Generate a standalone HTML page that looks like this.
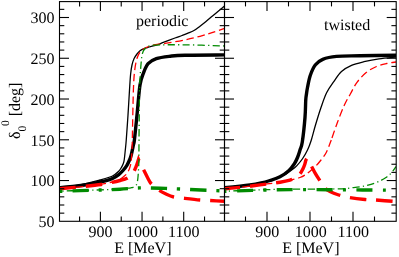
<!DOCTYPE html>
<html><head><meta charset="utf-8"><style>
html,body{margin:0;padding:0;background:#fff;}
svg{display:block;font-family:"Liberation Serif",serif;font-size:16px;fill:#000;text-rendering:geometricPrecision;}
</style></head><body>
<svg width="399" height="257" viewBox="0 0 399 257">
<rect width="399" height="257" fill="#fff"/>
<defs>
<clipPath id="cl"><rect x="59.5" y="1.6" width="165.00" height="219.70"/></clipPath>
<clipPath id="cr"><rect x="224.5" y="1.6" width="171.70" height="219.70"/></clipPath>
</defs>
<g fill="none" stroke-linecap="butt" stroke-linejoin="round" clip-path="url(#cl)">
<path d="M59.50,187.60 C62.08,187.37 70.58,186.67 75.00,186.20 C79.42,185.73 82.67,185.32 86.00,184.80 C89.33,184.28 91.83,183.75 95.00,183.10 C98.17,182.45 102.08,181.67 105.00,180.90 C107.92,180.13 110.21,179.55 112.50,178.50 C114.79,177.45 117.00,175.93 118.75,174.60 C120.50,173.27 121.64,172.05 123.00,170.50 C124.36,168.95 125.82,167.05 126.90,165.30 C127.98,163.55 128.78,161.72 129.50,160.00 C130.22,158.28 130.60,157.50 131.25,155.00 C131.90,152.50 132.88,147.50 133.40,145.00 C133.93,142.50 133.80,145.00 134.40,140.00 C135.00,135.00 136.07,124.17 137.00,115.00 C137.93,105.83 138.92,92.00 140.00,85.00 C141.08,78.00 142.15,76.55 143.50,73.00 C144.85,69.45 145.97,66.10 148.10,63.70 C150.23,61.30 152.60,59.85 156.30,58.60 C160.00,57.35 165.52,56.77 170.30,56.20 C175.08,55.63 175.97,55.42 185.00,55.20 C194.03,54.98 217.92,54.95 224.50,54.90" stroke="#000" stroke-width="3.4"/>
<path d="M59.50,187.60 C62.92,187.17 73.25,186.27 80.00,185.00 C86.75,183.73 94.58,181.50 100.00,180.00 C105.42,178.50 109.38,177.47 112.50,176.00 C115.62,174.53 117.25,172.65 118.75,171.20 C120.25,169.75 120.78,168.50 121.50,167.30 C122.22,166.10 122.65,165.22 123.10,164.00 C123.55,162.78 123.83,162.33 124.20,160.00 C124.57,157.67 124.96,153.33 125.30,150.00 C125.64,146.67 125.80,145.83 126.25,140.00 C126.70,134.17 127.46,123.33 128.00,115.00 C128.54,106.67 129.07,96.78 129.50,90.00 C129.93,83.22 130.18,78.47 130.60,74.30 C131.02,70.13 131.42,67.62 132.00,65.00 C132.58,62.38 133.27,60.43 134.10,58.60 C134.93,56.77 136.02,55.30 137.00,54.00 C137.98,52.70 138.83,51.70 140.00,50.80 C141.17,49.90 142.45,49.23 144.00,48.60 C145.55,47.97 147.05,47.65 149.30,47.00 C151.55,46.35 155.17,45.47 157.50,44.70 C159.83,43.93 160.38,43.52 163.30,42.40 C166.22,41.28 171.88,39.15 175.00,38.00 C178.12,36.85 179.83,36.30 182.00,35.50 C184.17,34.70 186.00,34.03 188.00,33.20 C190.00,32.37 192.00,31.67 194.00,30.50 C196.00,29.33 198.00,27.70 200.00,26.20 C202.00,24.70 203.92,23.20 206.00,21.50 C208.08,19.80 210.42,17.75 212.50,16.00 C214.58,14.25 216.50,12.67 218.50,11.00 C220.50,9.33 223.50,6.83 224.50,6.00" stroke="#000" stroke-width="1.3"/>
<path d="M59.50,188.70 C62.08,188.48 68.08,188.10 75.00,187.40 C81.92,186.70 94.83,185.33 101.00,184.50 C107.17,183.67 108.83,183.07 112.00,182.40 C115.17,181.73 117.50,181.18 120.00,180.50 C122.50,179.82 125.17,179.22 127.00,178.30 C128.83,177.38 129.92,176.05 131.00,175.00 C132.08,173.95 132.78,173.08 133.50,172.00 C134.22,170.92 134.77,169.67 135.30,168.50 C135.83,167.33 136.28,166.12 136.70,165.00 C137.12,163.88 137.50,162.72 137.80,161.80 C138.10,160.88 138.38,159.88 138.50,159.50 C138.68,159.92 139.10,160.95 139.60,162.00 C140.10,163.05 140.77,164.38 141.50,165.80 C142.23,167.22 143.00,168.55 144.00,170.50 C145.00,172.45 146.29,175.29 147.50,177.50 C148.71,179.71 149.38,181.67 151.25,183.75 C153.12,185.83 156.29,188.29 158.75,190.00 C161.21,191.71 163.50,192.83 166.00,194.00 C168.50,195.17 170.79,196.29 173.75,197.00 C176.71,197.71 179.38,197.75 183.75,198.25 C188.12,198.75 195.62,199.62 200.00,200.00 C204.38,200.38 205.92,200.29 210.00,200.50 C214.08,200.71 222.08,201.12 224.50,201.25" stroke="#ff0000" stroke-width="3.4" stroke-dasharray="0.00,0.16,16.30,10.00,16.30,10.00,16.30,10.00,13.52,10.00,16.30,10.00,16.30,10.00,16.30,10.00,14.45,50.00" stroke-linejoin="miter" stroke-miterlimit="12"/>
<path d="M59.50,188.60 C62.92,188.32 73.25,187.58 80.00,186.90 C86.75,186.22 94.58,185.32 100.00,184.50 C105.42,183.68 109.17,182.87 112.50,182.00 C115.83,181.13 117.92,180.38 120.00,179.30 C122.08,178.22 123.75,176.63 125.00,175.50 C126.25,174.37 126.75,173.67 127.50,172.50 C128.25,171.33 128.95,169.92 129.50,168.50 C130.05,167.08 130.47,165.75 130.80,164.00 C131.13,162.25 131.30,160.33 131.50,158.00 C131.70,155.67 131.87,153.00 132.00,150.00 C132.13,147.00 132.07,150.00 132.30,140.00 C132.53,130.00 132.98,101.73 133.40,90.00 C133.82,78.27 134.10,75.13 134.80,69.60 C135.50,64.07 136.35,60.10 137.60,56.80 C138.85,53.50 139.97,51.68 142.30,49.80 C144.63,47.92 147.82,46.57 151.60,45.50 C155.38,44.43 159.43,44.33 165.00,43.40 C170.57,42.47 179.17,41.08 185.00,39.90 C190.83,38.72 195.50,37.52 200.00,36.30 C204.50,35.08 207.92,33.92 212.00,32.60 C216.08,31.28 222.42,29.10 224.50,28.40" stroke="#ff0000" stroke-width="1.3" stroke-dasharray="7.5,3.8" stroke-dashoffset="6.03"/>
<path d="M59.50,191.20 C62.92,191.08 73.25,190.72 80.00,190.50 C86.75,190.28 93.33,190.17 100.00,189.90 C106.67,189.63 115.33,189.18 120.00,188.90 C124.67,188.62 126.17,188.38 128.00,188.20 C129.83,188.02 130.17,187.95 131.00,187.80 C131.83,187.65 132.33,187.60 133.00,187.30 C133.67,187.00 134.42,186.45 135.00,186.00 C135.58,185.55 136.12,185.27 136.50,184.60 C136.88,183.93 137.07,183.10 137.30,182.00 C137.53,180.90 137.70,180.00 137.90,178.00 C138.10,176.00 138.33,173.00 138.50,170.00 C138.67,167.00 138.82,165.00 138.90,160.00 C138.98,155.00 138.90,151.67 139.00,140.00 C139.10,128.33 139.42,98.33 139.50,90.00" stroke="#008b00" stroke-width="1.3" stroke-dasharray="7.3,3.2,1.2,3.2" stroke-dashoffset="7.54"/>
<path d="M139.50,90.00 C139.65,87.00 139.93,78.03 140.40,72.00 C140.87,65.97 141.40,57.80 142.30,53.80 C143.20,49.80 143.85,49.43 145.80,48.00 C147.75,46.57 147.47,45.73 154.00,45.20 C160.53,44.67 173.25,44.67 185.00,44.80 C196.75,44.93 217.92,45.80 224.50,46.00" stroke="#008b00" stroke-width="1.3" stroke-dasharray="7.3,3.2,1.2,3.2" stroke-dashoffset="8.56"/>
<path d="M59.50,191.30 C62.92,191.18 73.25,190.82 80.00,190.60 C86.75,190.38 93.33,190.23 100.00,190.00 C106.67,189.77 113.33,189.55 120.00,189.20 C126.67,188.85 133.33,188.07 140.00,187.90 C146.67,187.73 153.33,188.02 160.00,188.20 C166.67,188.38 169.25,188.53 180.00,189.00 C190.75,189.47 217.08,190.67 224.50,191.00" stroke="#008b00" stroke-width="3.4" stroke-dasharray="16.25,10,3,10" stroke-dashoffset="26.30"/>
</g>
<g fill="none" stroke-linecap="butt" stroke-linejoin="round" clip-path="url(#cr)">
<path d="M224.50,187.60 C227.08,187.37 235.75,186.63 240.00,186.20 C244.25,185.77 246.67,185.50 250.00,185.00 C253.33,184.50 256.67,183.95 260.00,183.20 C263.33,182.45 266.67,181.57 270.00,180.50 C273.33,179.43 276.88,178.42 280.00,176.80 C283.12,175.18 286.35,172.98 288.75,170.80 C291.15,168.62 292.94,165.97 294.40,163.75 C295.86,161.53 296.57,159.79 297.50,157.50 C298.43,155.21 299.20,152.58 300.00,150.00 C300.80,147.42 301.47,147.42 302.30,142.00 C303.13,136.58 304.43,124.50 305.00,117.50 C305.57,110.50 305.50,103.96 305.75,100.00 C306.00,96.04 306.21,95.83 306.50,93.75 C306.79,91.67 306.88,90.54 307.50,87.50 C308.12,84.46 308.96,79.25 310.25,75.50 C311.54,71.75 313.17,67.70 315.25,65.00 C317.33,62.30 319.21,60.73 322.75,59.30 C326.29,57.87 330.29,56.98 336.50,56.40 C342.71,55.82 350.08,56.00 360.00,55.80 C369.92,55.60 390.00,55.30 396.00,55.20" stroke="#000" stroke-width="3.4"/>
<path d="M224.50,187.60 C227.08,187.33 234.08,186.80 240.00,186.00 C245.92,185.20 254.17,183.97 260.00,182.80 C265.83,181.63 271.17,180.22 275.00,179.00 C278.83,177.78 280.71,176.67 283.00,175.50 C285.29,174.33 287.08,173.08 288.75,172.00 C290.42,170.92 291.64,170.07 293.00,169.00 C294.36,167.93 295.32,167.31 296.90,165.60 C298.48,163.89 300.73,161.35 302.50,158.75 C304.27,156.15 306.08,152.96 307.50,150.00 C308.92,147.04 309.67,145.17 311.00,141.00 C312.33,136.83 313.83,130.58 315.50,125.00 C317.17,119.42 319.15,112.88 321.00,107.50 C322.85,102.12 324.43,97.07 326.60,92.70 C328.77,88.33 331.52,84.83 334.00,81.30 C336.48,77.77 338.58,74.17 341.50,71.50 C344.42,68.83 347.75,66.93 351.50,65.30 C355.25,63.67 359.42,62.78 364.00,61.70 C368.58,60.62 373.67,59.58 379.00,58.80 C384.33,58.02 393.17,57.30 396.00,57.00" stroke="#000" stroke-width="1.3"/>
<path d="M224.50,188.70 C227.08,188.48 234.08,188.03 240.00,187.40 C245.92,186.77 253.33,185.77 260.00,184.90 C266.67,184.03 275.00,183.00 280.00,182.20 C285.00,181.40 287.33,180.87 290.00,180.10 C292.67,179.33 294.32,178.65 296.00,177.60 C297.68,176.55 298.93,175.28 300.10,173.80 C301.27,172.32 302.22,170.30 303.00,168.70 C303.78,167.10 304.32,165.62 304.80,164.20 C305.28,162.78 305.53,161.18 305.90,160.20 C306.27,159.22 306.82,158.62 307.00,158.30 C307.27,158.75 307.83,159.65 308.60,161.00 C309.37,162.35 310.53,164.43 311.60,166.40 C312.67,168.37 313.60,170.37 315.00,172.80 C316.40,175.23 318.54,178.63 320.00,181.00 C321.46,183.37 322.08,185.25 323.75,187.00 C325.42,188.75 327.50,190.17 330.00,191.50 C332.50,192.83 335.62,194.00 338.75,195.00 C341.88,196.00 344.38,196.75 348.75,197.50 C353.12,198.25 360.62,199.08 365.00,199.50 C369.38,199.92 369.83,199.67 375.00,200.00 C380.17,200.33 392.50,201.25 396.00,201.50" stroke="#ff0000" stroke-width="3.4" stroke-dasharray="15.66,10.00,16.30,10.00,16.30,10.00,16.30,10.10,16.30,10.00,16.30,10.00,16.30,10.00,16.30,53.68" stroke-linejoin="miter" stroke-miterlimit="12"/>
<path d="M224.50,188.60 C227.08,188.38 234.08,187.93 240.00,187.30 C245.92,186.67 253.33,185.63 260.00,184.80 C266.67,183.97 275.00,183.03 280.00,182.30 C285.00,181.57 286.67,181.20 290.00,180.40 C293.33,179.60 297.50,178.40 300.00,177.50 C302.50,176.60 303.33,176.05 305.00,175.00 C306.67,173.95 308.12,172.77 310.00,171.20 C311.88,169.63 314.42,167.47 316.25,165.60 C318.08,163.73 319.33,162.18 321.00,160.00 C322.67,157.82 324.54,155.83 326.25,152.50 C327.96,149.17 330.42,142.08 331.25,140.00 C332.27,137.08 335.21,128.33 337.40,122.50 C339.59,116.67 342.20,109.83 344.40,105.00 C346.60,100.17 348.50,97.28 350.60,93.50 C352.70,89.72 354.35,85.83 357.00,82.30 C359.65,78.77 363.25,74.93 366.50,72.30 C369.75,69.67 373.17,67.97 376.50,66.50 C379.83,65.03 383.25,64.25 386.50,63.50 C389.75,62.75 394.42,62.25 396.00,62.00" stroke="#ff0000" stroke-width="1.3" stroke-dasharray="2.81,3.80,7.50,3.80,7.50,3.80,7.50,3.80,7.50,3.80,7.50,3.80,7.50,3.80,7.50,3.80,7.50,3.80,7.50,3.80,7.50,3.80,7.13,2.35,7.50,3.80,7.50,3.80,7.50,3.80,7.50,3.80,7.50,3.80,7.50,3.80,7.50,3.80,7.50,3.80,7.50,3.80,4.83,50.00"/>
<path d="M224.50,191.20 C227.92,191.08 238.25,190.75 245.00,190.50 C251.75,190.25 257.50,189.93 265.00,189.70 C272.50,189.47 277.67,189.23 290.00,189.10 C302.33,188.97 328.67,189.13 339.00,188.90 C349.33,188.67 348.50,188.05 352.00,187.70 C355.50,187.35 357.50,187.18 360.00,186.80 C362.50,186.42 364.57,186.00 367.00,185.40 C369.43,184.80 372.18,184.07 374.60,183.20 C377.02,182.33 379.60,181.15 381.50,180.20 C383.40,179.25 384.67,178.40 386.00,177.50 C387.33,176.60 388.33,175.92 389.50,174.80 C390.67,173.68 391.92,172.18 393.00,170.80 C394.08,169.42 395.50,167.22 396.00,166.50" stroke="#008b00" stroke-width="1.3" stroke-dasharray="7.3,3.2,1.2,3.2" stroke-dashoffset="6.07"/>
<path d="M224.50,191.30 C227.92,191.18 238.25,190.82 245.00,190.60 C251.75,190.38 257.50,190.17 265.00,190.00 C272.50,189.83 277.50,189.63 290.00,189.60 C302.50,189.57 322.33,189.70 340.00,189.80 C357.67,189.90 386.67,190.13 396.00,190.20" stroke="#008b00" stroke-width="3.4" stroke-dasharray="16,10.4,3,10.4" stroke-dashoffset="27.25"/>
</g>
<g stroke="#000" stroke-width="1.1" fill="none">
<line x1="59.5" y1="213.15" x2="64.3" y2="213.15"/>
<line x1="219.7" y1="213.15" x2="229.3" y2="213.15"/>
<line x1="391.4" y1="213.15" x2="396.2" y2="213.15"/>
<line x1="59.5" y1="205.00" x2="64.3" y2="205.00"/>
<line x1="219.7" y1="205.00" x2="229.3" y2="205.00"/>
<line x1="391.4" y1="205.00" x2="396.2" y2="205.00"/>
<line x1="59.5" y1="196.84" x2="64.3" y2="196.84"/>
<line x1="219.7" y1="196.84" x2="229.3" y2="196.84"/>
<line x1="391.4" y1="196.84" x2="396.2" y2="196.84"/>
<line x1="59.5" y1="188.69" x2="64.3" y2="188.69"/>
<line x1="219.7" y1="188.69" x2="229.3" y2="188.69"/>
<line x1="391.4" y1="188.69" x2="396.2" y2="188.69"/>
<line x1="59.5" y1="180.54" x2="69.0" y2="180.54"/>
<line x1="215.0" y1="180.54" x2="234.0" y2="180.54"/>
<line x1="386.7" y1="180.54" x2="396.2" y2="180.54"/>
<line x1="59.5" y1="172.39" x2="64.3" y2="172.39"/>
<line x1="219.7" y1="172.39" x2="229.3" y2="172.39"/>
<line x1="391.4" y1="172.39" x2="396.2" y2="172.39"/>
<line x1="59.5" y1="164.24" x2="64.3" y2="164.24"/>
<line x1="219.7" y1="164.24" x2="229.3" y2="164.24"/>
<line x1="391.4" y1="164.24" x2="396.2" y2="164.24"/>
<line x1="59.5" y1="156.08" x2="64.3" y2="156.08"/>
<line x1="219.7" y1="156.08" x2="229.3" y2="156.08"/>
<line x1="391.4" y1="156.08" x2="396.2" y2="156.08"/>
<line x1="59.5" y1="147.93" x2="64.3" y2="147.93"/>
<line x1="219.7" y1="147.93" x2="229.3" y2="147.93"/>
<line x1="391.4" y1="147.93" x2="396.2" y2="147.93"/>
<line x1="59.5" y1="139.78" x2="69.0" y2="139.78"/>
<line x1="215.0" y1="139.78" x2="234.0" y2="139.78"/>
<line x1="386.7" y1="139.78" x2="396.2" y2="139.78"/>
<line x1="59.5" y1="131.63" x2="64.3" y2="131.63"/>
<line x1="219.7" y1="131.63" x2="229.3" y2="131.63"/>
<line x1="391.4" y1="131.63" x2="396.2" y2="131.63"/>
<line x1="59.5" y1="123.48" x2="64.3" y2="123.48"/>
<line x1="219.7" y1="123.48" x2="229.3" y2="123.48"/>
<line x1="391.4" y1="123.48" x2="396.2" y2="123.48"/>
<line x1="59.5" y1="115.32" x2="64.3" y2="115.32"/>
<line x1="219.7" y1="115.32" x2="229.3" y2="115.32"/>
<line x1="391.4" y1="115.32" x2="396.2" y2="115.32"/>
<line x1="59.5" y1="107.17" x2="64.3" y2="107.17"/>
<line x1="219.7" y1="107.17" x2="229.3" y2="107.17"/>
<line x1="391.4" y1="107.17" x2="396.2" y2="107.17"/>
<line x1="59.5" y1="99.02" x2="69.0" y2="99.02"/>
<line x1="215.0" y1="99.02" x2="234.0" y2="99.02"/>
<line x1="386.7" y1="99.02" x2="396.2" y2="99.02"/>
<line x1="59.5" y1="90.87" x2="64.3" y2="90.87"/>
<line x1="219.7" y1="90.87" x2="229.3" y2="90.87"/>
<line x1="391.4" y1="90.87" x2="396.2" y2="90.87"/>
<line x1="59.5" y1="82.72" x2="64.3" y2="82.72"/>
<line x1="219.7" y1="82.72" x2="229.3" y2="82.72"/>
<line x1="391.4" y1="82.72" x2="396.2" y2="82.72"/>
<line x1="59.5" y1="74.56" x2="64.3" y2="74.56"/>
<line x1="219.7" y1="74.56" x2="229.3" y2="74.56"/>
<line x1="391.4" y1="74.56" x2="396.2" y2="74.56"/>
<line x1="59.5" y1="66.41" x2="64.3" y2="66.41"/>
<line x1="219.7" y1="66.41" x2="229.3" y2="66.41"/>
<line x1="391.4" y1="66.41" x2="396.2" y2="66.41"/>
<line x1="59.5" y1="58.26" x2="69.0" y2="58.26"/>
<line x1="215.0" y1="58.26" x2="234.0" y2="58.26"/>
<line x1="386.7" y1="58.26" x2="396.2" y2="58.26"/>
<line x1="59.5" y1="50.11" x2="64.3" y2="50.11"/>
<line x1="219.7" y1="50.11" x2="229.3" y2="50.11"/>
<line x1="391.4" y1="50.11" x2="396.2" y2="50.11"/>
<line x1="59.5" y1="41.96" x2="64.3" y2="41.96"/>
<line x1="219.7" y1="41.96" x2="229.3" y2="41.96"/>
<line x1="391.4" y1="41.96" x2="396.2" y2="41.96"/>
<line x1="59.5" y1="33.80" x2="64.3" y2="33.80"/>
<line x1="219.7" y1="33.80" x2="229.3" y2="33.80"/>
<line x1="391.4" y1="33.80" x2="396.2" y2="33.80"/>
<line x1="59.5" y1="25.65" x2="64.3" y2="25.65"/>
<line x1="219.7" y1="25.65" x2="229.3" y2="25.65"/>
<line x1="391.4" y1="25.65" x2="396.2" y2="25.65"/>
<line x1="59.5" y1="17.50" x2="69.0" y2="17.50"/>
<line x1="215.0" y1="17.50" x2="234.0" y2="17.50"/>
<line x1="386.7" y1="17.50" x2="396.2" y2="17.50"/>
<line x1="59.5" y1="9.35" x2="64.3" y2="9.35"/>
<line x1="219.7" y1="9.35" x2="229.3" y2="9.35"/>
<line x1="391.4" y1="9.35" x2="396.2" y2="9.35"/>
<line x1="79.58" y1="221.3" x2="79.58" y2="216.5"/>
<line x1="79.58" y1="1.6" x2="79.58" y2="6.4"/>
<line x1="100.40" y1="221.3" x2="100.40" y2="211.8"/>
<line x1="100.40" y1="1.6" x2="100.40" y2="11.1"/>
<line x1="121.23" y1="221.3" x2="121.23" y2="216.5"/>
<line x1="121.23" y1="1.6" x2="121.23" y2="6.4"/>
<line x1="142.05" y1="221.3" x2="142.05" y2="211.8"/>
<line x1="142.05" y1="1.6" x2="142.05" y2="11.1"/>
<line x1="162.88" y1="221.3" x2="162.88" y2="216.5"/>
<line x1="162.88" y1="1.6" x2="162.88" y2="6.4"/>
<line x1="183.70" y1="221.3" x2="183.70" y2="211.8"/>
<line x1="183.70" y1="1.6" x2="183.70" y2="11.1"/>
<line x1="204.53" y1="221.3" x2="204.53" y2="216.5"/>
<line x1="204.53" y1="1.6" x2="204.53" y2="6.4"/>
<line x1="245.50" y1="221.3" x2="245.50" y2="216.5"/>
<line x1="245.50" y1="1.6" x2="245.50" y2="6.4"/>
<line x1="267.00" y1="221.3" x2="267.00" y2="211.8"/>
<line x1="267.00" y1="1.6" x2="267.00" y2="11.1"/>
<line x1="288.50" y1="221.3" x2="288.50" y2="216.5"/>
<line x1="288.50" y1="1.6" x2="288.50" y2="6.4"/>
<line x1="310.00" y1="221.3" x2="310.00" y2="211.8"/>
<line x1="310.00" y1="1.6" x2="310.00" y2="11.1"/>
<line x1="331.50" y1="221.3" x2="331.50" y2="216.5"/>
<line x1="331.50" y1="1.6" x2="331.50" y2="6.4"/>
<line x1="353.00" y1="221.3" x2="353.00" y2="211.8"/>
<line x1="353.00" y1="1.6" x2="353.00" y2="11.1"/>
<line x1="374.50" y1="221.3" x2="374.50" y2="216.5"/>
<line x1="374.50" y1="1.6" x2="374.50" y2="6.4"/>
<rect x="59.5" y="1.6" width="165.00" height="219.70"/>
<rect x="224.5" y="1.6" width="171.70" height="219.70"/>
</g>
<g style="filter:grayscale(1)">
<text x="54.5" y="227.10" text-anchor="end">50</text>
<text x="54.5" y="186.34" text-anchor="end">100</text>
<text x="54.5" y="145.58" text-anchor="end">150</text>
<text x="54.5" y="104.82" text-anchor="end">200</text>
<text x="54.5" y="64.06" text-anchor="end">250</text>
<text x="54.5" y="23.30" text-anchor="end">300</text>
<text x="100.40" y="237.1" text-anchor="middle">900</text>
<text x="142.05" y="237.1" text-anchor="middle">1000</text>
<text x="183.70" y="237.1" text-anchor="middle">1100</text>
<text x="267.30" y="237.1" text-anchor="middle">900</text>
<text x="310.70" y="237.1" text-anchor="middle">1000</text>
<text x="353.30" y="237.1" text-anchor="middle">1100</text>
<text x="142.8" y="252.5" text-anchor="middle">E [MeV]</text>
<text x="310.8" y="252.5" text-anchor="middle">E [MeV]</text>
<text x="136" y="25.8">periodic</text>
<text x="324" y="29.8">twisted</text>
<g transform="translate(20,139) rotate(-90)"><text x="0" y="0">δ</text><text x="7.5" y="5.7" font-size="11.5">0</text><text x="13" y="-10.9" font-size="11.5">0</text><text x="22.7" y="0">[deg]</text></g>
</g>
</svg>
</body></html>
